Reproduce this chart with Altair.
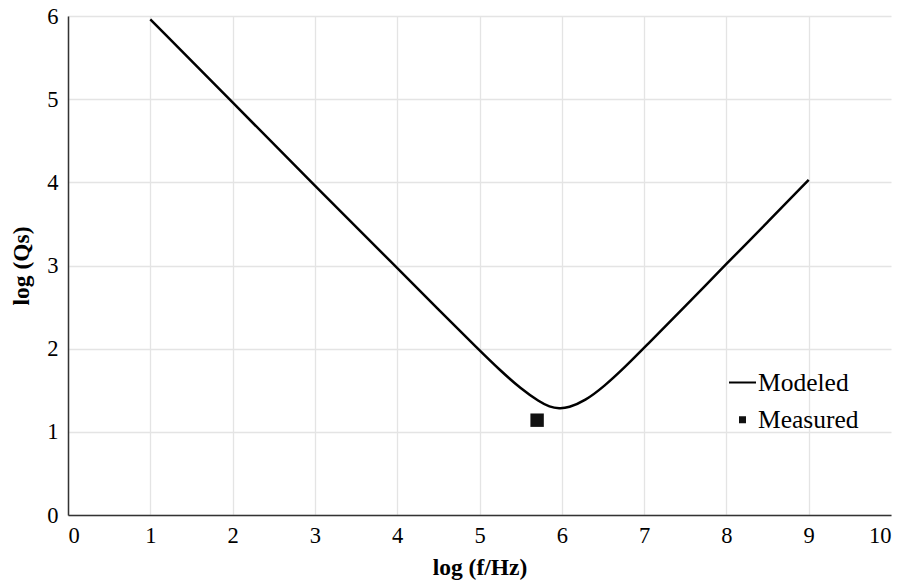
import altair as alt
import pandas as pd

# Modeled curve
x_model = [1, 2, 3, 4, 4.5, 5, 5.25, 5.5, 5.73, 5.85, 5.97, 6.08, 6.28, 6.52, 6.77, 7, 7.5, 8, 8.5, 9]
y_model = [5.96, 4.96, 3.96, 2.97, 2.47, 1.98, 1.74, 1.52, 1.36, 1.30, 1.28, 1.29, 1.37, 1.55, 1.78, 2.01, 2.51, 3.02, 3.52, 4.03]

# Measured point
x_meas = [5.70]
y_meas = [1.14]

series_names = ["Modeled", "Measured"]
x_ticks = [0, 1, 2, 3, 4, 5, 6, 7, 8, 9, 10]
y_ticks = [0, 1, 2, 3, 4, 5, 6]

model_df = pd.DataFrame({"x": x_model, "y": y_model, "series": "Modeled"})
meas_df = pd.DataFrame({"x": x_meas, "y": y_meas, "series": "Measured"})

FONT = "Liberation Serif"

xenc = alt.X(
    "x:Q",
    scale=alt.Scale(domain=[0, 10], nice=False, zero=False),
    axis=alt.Axis(
        values=x_ticks,
        title="log (f/Hz)",
        labelPadding=9,
        titleY=52,
        titleBaseline="middle",
        gridColor={"condition": {"test": "datum.value === 10", "value": "transparent"}, "value": "#e4e4e4"},
    ),
)
yenc = alt.Y(
    "y:Q",
    scale=alt.Scale(domain=[0, 6], nice=False),
    axis=alt.Axis(
        values=y_ticks,
        title="log (Qs)",
        labelPadding=10,
        titleX=-47,
        titleBaseline="middle",
    ),
)

line = alt.Chart(model_df).mark_line(
    color="black", strokeWidth=2.5, interpolate="basis"
).encode(x=xenc, y=yenc)

legend_layer = alt.Chart(meas_df).mark_point(filled=True, strokeWidth=2, opacity=1).encode(
    x=xenc,
    y=yenc,
    shape=alt.Shape("series:N", scale=alt.Scale(domain=series_names, range=["stroke", "square"]), legend=alt.Legend(title=None)),
    size=alt.Size("series:N", scale=alt.Scale(domain=series_names, range=[729, 25]), legend=alt.Legend(title=None)),
    color=alt.Color("series:N", scale=alt.Scale(domain=series_names, range=["black", "#111111"]), legend=alt.Legend(title=None)),
    stroke=alt.Stroke("series:N", scale=alt.Scale(domain=series_names, range=["black", "#111111"]), legend=alt.Legend(title=None)),
)

points = alt.Chart(meas_df).mark_square(size=180, color="#111111", opacity=1).encode(x=xenc, y=yenc)

chart = alt.layer(line, legend_layer, points).properties(
    width=823,
    height=499,
    autosize=alt.AutoSizeParams(type="none"),
    padding={"left": 68, "top": 16, "right": 16, "bottom": 67},
    background="white",
).configure_view(stroke=None).configure_axis(
    labelFont=FONT,
    labelFontSize=22.5,
    labelColor="black",
    titleFont=FONT,
    titleFontSize=23.5,
    titleFontWeight="bold",
    titleColor="black",
    domainColor="#333333",
    domainWidth=1.5,
    ticks=False,
    gridColor="#e4e4e4",
    gridWidth=1.3,
).configure_legend(
    orient="none",
    legendX=660,
    legendY=352,
    labelFont=FONT,
    labelFontSize=25.5,
    labelColor="black",
    labelOffset=1,
    rowPadding=11,
    padding=0,
    symbolStrokeWidth=2,
)

chart.save("out.html", embed_options={"renderer": "svg", "actions": False})
